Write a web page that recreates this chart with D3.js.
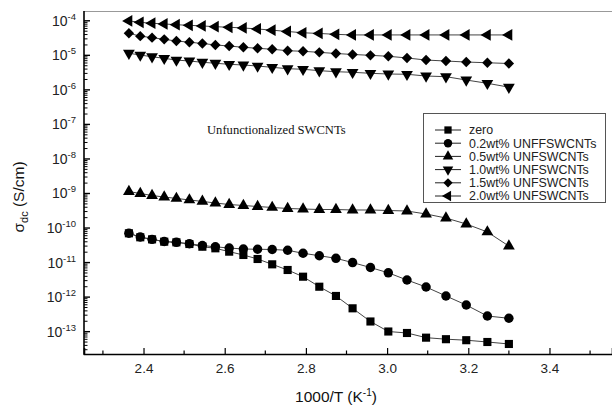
<!DOCTYPE html>
<html>
<head>
<meta charset="utf-8">
<script src="https://cdn.jsdelivr.net/npm/d3@7"></script>
<style>
body { margin: 0; background: #fff; }
svg { display: block; }
</style>
</head>
<body>
<svg id="chart" width="612" height="405"></svg>
<script>
// 1000/T values (K^-1), same for every sample
var invT = [2.364, 2.392, 2.421, 2.451, 2.481, 2.513, 2.545, 2.577, 2.611, 2.646, 2.681, 2.717, 2.755,
            2.793, 2.833, 2.874, 2.915, 2.959, 3.003, 3.049, 3.096, 3.145, 3.195, 3.247, 3.300];

// sigma_dc (S/cm)
var zero = [7.05e-11, 5.4e-11, 4.7e-11, 4.03e-11, 3.86e-11, 3.45e-11, 2.88e-11, 2.59e-11, 2.07e-11, 1.66e-11,
            1.27e-11, 8.9e-12, 6.1e-12, 3.9e-12, 2.0e-12, 1.08e-12, 4.74e-13, 1.97e-13, 1.01e-13, 9.15e-14,
            6.7e-14, 6.05e-14, 5.66e-14, 5.02e-14, 4.4e-14];
var wt02 = [7.05e-11, 5.5e-11, 4.7e-11, 4.07e-11, 3.86e-11, 3.5e-11, 3.12e-11, 2.86e-11, 2.64e-11, 2.47e-11,
            2.43e-11, 2.39e-11, 2.27e-11, 1.86e-11, 1.58e-11, 1.33e-11, 1.0e-11, 7.2e-12, 5.06e-12, 3.13e-12,
            1.96e-12, 1.08e-12, 5.9e-13, 2.84e-13, 2.44e-13];
var wt05 = [1.14e-9, 1.0e-9, 8.75e-10, 7.9e-10, 7.2e-10, 6.5e-10, 5.9e-10, 5.3e-10, 4.8e-10, 4.5e-10,
            4.2e-10, 3.94e-10, 3.68e-10, 3.56e-10, 3.44e-10, 3.44e-10, 3.33e-10, 3.33e-10, 3.22e-10, 3.11e-10,
            2.55e-10, 1.95e-10, 1.31e-10, 7.7e-11, 3.0e-11];
var wt10 = [1.15e-5, 1.02e-5, 9.1e-6, 8.2e-6, 7.3e-6, 6.85e-6, 6.3e-6, 5.9e-6, 5.5e-6, 5.25e-6,
            4.9e-6, 4.5e-6, 4.1e-6, 3.95e-6, 3.6e-6, 3.36e-6, 3.23e-6, 3.02e-6, 2.88e-6, 2.83e-6,
            2.52e-6, 2.41e-6, 1.93e-6, 1.55e-6, 1.2e-6];
var wt15 = [4.35e-5, 3.6e-5, 3.25e-5, 2.9e-5, 2.6e-5, 2.4e-5, 2.2e-5, 2.0e-5, 1.86e-5, 1.71e-5,
            1.6e-5, 1.5e-5, 1.36e-5, 1.31e-5, 1.22e-5, 1.13e-5, 1.06e-5, 1.0e-5, 9.4e-6, 8.4e-6,
            7.3e-6, 6.85e-6, 6.4e-6, 6.1e-6, 5.8e-6];
var wt20 = [9.9e-5, 9.05e-5, 8.5e-5, 8.1e-5, 7.7e-5, 7.4e-5, 7.1e-5, 6.75e-5, 6.5e-5, 6.2e-5,
            5.8e-5, 5.35e-5, 4.9e-5, 4.5e-5, 4.3e-5, 4.05e-5, 3.9e-5, 3.9e-5, 3.9e-5, 3.9e-5,
            3.9e-5, 3.9e-5, 3.9e-5, 3.9e-5, 3.9e-5];

var seriesNames = ["zero", "0.2wt% UNFFSWCNTs", "0.5wt% UNFSWCNTs", "1.0wt% UNFSWCNTs", "1.5wt% UNFSWCNTs", "2.0wt% UNFSWCNTs"];
var seriesData = [zero, wt02, wt05, wt10, wt15, wt20];

var xTicks = [2.4, 2.6, 2.8, 3.0, 3.2, 3.4];
var xMinorTicks = [2.3, 2.5, 2.7, 2.9, 3.1, 3.3, 3.5];
var yDecades = [-4, -5, -6, -7, -8, -9, -10, -11, -12, -13];

// marker shapes: symbol type, rotation, area
var markers = [
    {type: d3.symbolSquare, rot: 0, size: 66},
    {type: d3.symbolCircle, rot: 0, size: 70},
    {type: d3.symbolTriangle, rot: 0, size: 60},
    {type: d3.symbolTriangle, rot: 180, size: 60},
    {type: d3.symbolSquare, rot: 45, size: 54},
    {type: d3.symbolTriangle, rot: -90, size: 60}
];

var svg = d3.select("#chart");
var plotL = 84, plotR = 612, plotT = 11, plotB = 354;
var font = "'Liberation Sans', Arial, sans-serif";

var x = d3.scaleLinear().domain([2.2534, 3.554]).range([plotL, plotR]);
var y = d3.scaleLog().domain([2.255e-14, 1.922e-4]).range([plotB, plotT]);

// frame
svg.append("line")
    .attr("x1", plotL).attr("x2", plotR).attr("y1", plotT + 0.5).attr("y2", plotT + 0.5)
    .attr("stroke", "#999").attr("stroke-width", 1);

// x axis
var xAxis = d3.axisBottom(x).tickValues(xTicks).tickSize(-6).tickPadding(9)
    .tickFormat(d3.format(".1f"));
var gx = svg.append("g").attr("transform", "translate(0," + plotB + ")").call(xAxis);
gx.select(".domain").attr("stroke", "#000").attr("stroke-width", 1.6);
gx.selectAll(".tick line").attr("stroke", "#000").attr("stroke-width", 1.2);
gx.selectAll(".tick text").attr("fill", "#222").style("font-family", font).style("font-size", "13.5px");
gx.selectAll(".minor").data(xMinorTicks).enter().append("line")
    .attr("x1", function(d) { return x(d); }).attr("x2", function(d) { return x(d); })
    .attr("y1", 0).attr("y2", -3.5)
    .attr("stroke", "#000").attr("stroke-width", 1.2);

// y axis
var gy = svg.append("g");
gy.append("line")
    .attr("x1", plotL).attr("x2", plotL).attr("y1", plotT).attr("y2", plotB + 0.8)
    .attr("stroke", "#000").attr("stroke-width", 1.6);
var minorVals = [];
yDecades.concat([-14, -3]).forEach(function(e) {
    for (var k = 2; k <= 9; k++) {
        var v = k * Math.pow(10, e);
        if (v > y.domain()[0] && v < y.domain()[1]) minorVals.push(v);
    }
});
gy.selectAll(".ymin").data(minorVals).enter().append("line")
    .attr("x1", plotL).attr("x2", plotL + 3.5)
    .attr("y1", function(d) { return y(d); }).attr("y2", function(d) { return y(d); })
    .attr("stroke", "#000").attr("stroke-width", 1);
gy.selectAll(".ymaj").data(yDecades).enter().append("line")
    .attr("x1", plotL).attr("x2", plotL + 6)
    .attr("y1", function(d) { return y(Math.pow(10, d)); }).attr("y2", function(d) { return y(Math.pow(10, d)); })
    .attr("stroke", "#000").attr("stroke-width", 1.4);
var ylab = gy.selectAll(".ylab").data(yDecades).enter().append("text")
    .attr("x", 76)
    .attr("y", function(d) { return y(Math.pow(10, d)) + 5; })
    .attr("text-anchor", "end")
    .attr("fill", "#222")
    .style("font-family", font).style("font-size", "14px");
ylab.append("tspan").text("10");
ylab.append("tspan").attr("dy", -6).style("font-size", "9.5px").text(function(d) { return d; });

// axis titles
var xt = svg.append("text")
    .attr("x", 336).attr("y", 402)
    .attr("text-anchor", "middle").attr("fill", "#111")
    .style("font-family", font).style("font-size", "15.5px");
xt.append("tspan").text("1000/T (K");
xt.append("tspan").attr("dy", -6).style("font-size", "10px").text("-1");
xt.append("tspan").attr("dy", 6).text(")");

var yt = svg.append("text")
    .attr("transform", "translate(24,197) rotate(-90)")
    .attr("text-anchor", "middle").attr("fill", "#111")
    .style("font-family", font).style("font-size", "15.5px");
yt.append("tspan").text("σ");
yt.append("tspan").attr("dy", 4).style("font-size", "11px").text("dc");
yt.append("tspan").attr("dy", -4).text(" (S/cm)");

svg.append("text")
    .attr("x", 207).attr("y", 134)
    .attr("fill", "#111")
    .style("font-family", "'Liberation Serif', 'Times New Roman', serif").style("font-size", "12.6px")
    .text("Unfunctionalized SWCNTs");

// series
var line = d3.line()
    .x(function(d, i) { return x(invT[i]); })
    .y(function(d) { return y(d); });

seriesData.forEach(function(s, si) {
    svg.append("path")
        .datum(s)
        .attr("fill", "none")
        .attr("stroke", "#444")
        .attr("stroke-width", 1)
        .attr("d", line);
});
seriesData.forEach(function(s, si) {
    var m = markers[si];
    svg.append("g").selectAll("path")
        .data(s)
        .enter().append("path")
        .attr("d", d3.symbol().type(m.type).size(m.size))
        .attr("transform", function(d, i) {
            return "translate(" + x(invT[i]) + "," + y(d) + ") rotate(" + m.rot + ")";
        })
        .attr("fill", "#000");
});

// legend
var lg = svg.append("g");
lg.append("rect")
    .attr("x", 423.5).attr("y", 113.5).attr("width", 182).attr("height", 89)
    .attr("fill", "#fff").attr("stroke", "#555").attr("stroke-width", 1);
seriesNames.forEach(function(name, i) {
    var ly = 130 + i * 13.2;
    var m = markers[i];
    lg.append("line")
        .attr("x1", 435).attr("x2", 461).attr("y1", ly).attr("y2", ly)
        .attr("stroke", "#222").attr("stroke-width", 1);
    lg.append("path")
        .attr("d", d3.symbol().type(m.type).size(m.size * 0.8))
        .attr("transform", "translate(448," + ly + ") rotate(" + m.rot + ")")
        .attr("fill", "#000");
    lg.append("text")
        .attr("x", 469).attr("y", ly + 4.3)
        .attr("fill", "#222")
        .style("font-family", font).style("font-size", "12.4px")
        .text(name);
});
</script>
</body>
</html>
